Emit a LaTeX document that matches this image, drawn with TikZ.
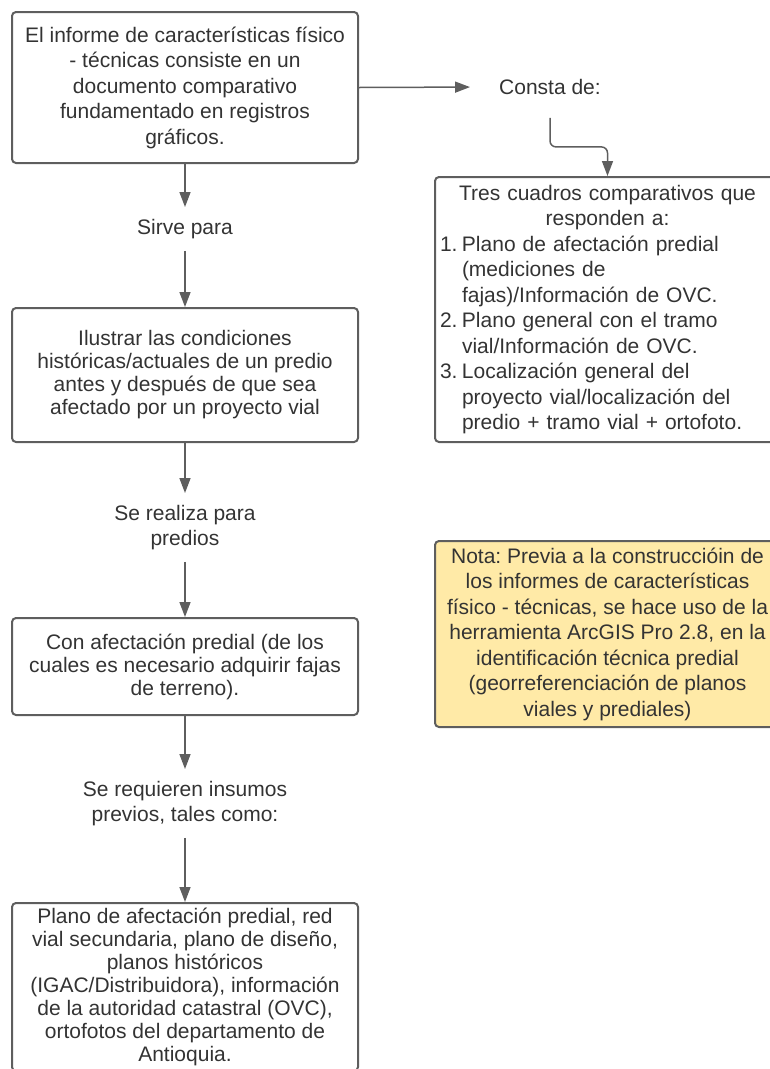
\documentclass[tikz,border=0pt]{standalone}
\usepackage{fontspec}
\setmainfont{Liberation Sans}
\usepackage{tikz}
\usetikzlibrary{positioning,arrows.meta}
\definecolor{color1}{RGB}{94,94,94}
\definecolor{color2}{RGB}{51,51,51}
\definecolor{color3}{RGB}{255,234,167}
\newcommand{\itemlinea}[2]{\noindent\makebox[22pt][l]{#1}#2\par}
\frenchspacing

\begin{document}
\begin{tikzpicture}[x=1pt,y=-1pt]
\tikzset{caja/.style 2 args={draw=color1,line width=2pt,rounded corners=4pt,text=color2,font=\fontsize{21}{25.5}\selectfont,align=center,minimum width=#1,minimum height=#2,inner sep=0pt},
texto/.style={text=color2,font=\fontsize{21}{25}\selectfont,align=center,inner sep=12pt},
flecha/.style={draw=color1,line width=1.5pt,-{Triangle[length=15pt,width=11pt]}}}
\useasboundingbox (0,0) rectangle (770,1069);
% Nodos
\node [caja={346}{151}] (informe) at (185,87.5) {El informe de características físico\\- técnicas consiste en un\\documento comparativo\\fundamentado en registros\\gráficos.};
\node [texto] (consta) at (550,87) {Consta de:};
\node [texto] (sirve) at (185,229) {Sirve para};
\node [caja={346}{134},font=\fontsize{21}{23}\selectfont] (ilustrar) at (185,375) {Ilustrar las condiciones\\históricas/actuales de un predio\\antes y después de que sea\\afectado por un proyecto vial};
\node [texto] (realiza) at (185,527.5) {Se realiza para\\predios};
\node [caja={346}{97},font=\fontsize{21}{23}\selectfont] (afectacion) at (185,666.5) {Con afectación predial (de los\\cuales es necesario adquirir fajas\\de terreno).};
\node [texto] (requieren) at (185,803.5) {Se requieren insumos\\previos, tales como:};
\node [caja={346}{168},font=\fontsize{21}{23}\selectfont] (insumos) at (185,987) {Plano de afectación predial, red\\vial secundaria, plano de diseño,\\planos históricos\\(IGAC/Distribuidora), información\\de la autoridad catastral (OVC),\\ortofotos del departamento de\\Antioquia.};
\node [caja={345}{265},align=left,text width=335pt,inner sep=5pt] (cuadros) at (607.5,309.5) {%
\centerline{Tres cuadros comparativos que}
\centerline{responden a:}
\itemlinea{1.}{Plano de afectación predial}
\itemlinea{}{(mediciones de}
\itemlinea{}{fajas)/Información de OVC.}
\itemlinea{2.}{Plano general con el tramo}
\itemlinea{}{vial/Información de OVC.}
\itemlinea{3.}{Localización general del}
\itemlinea{}{proyecto vial/localización del}
\itemlinea{}{predio + tramo vial + ortofoto.}};
\node [caja={345}{186},fill=color3] (nota) at (607.5,634) {Nota: Previa a la construccióin de\\los informes de características\\físico - técnicas, se hace uso de la\\herramienta ArcGIS Pro 2.8, en la\\identificación técnica predial\\(georreferenciación de planos\\viales y prediales)};
% Flechas
\draw [flecha] (informe.south) -- (sirve.north);
\draw [flecha] (sirve.south) -- (ilustrar.north);
\draw [flecha] (ilustrar.south) -- (realiza.north);
\draw [flecha] (realiza.south) -- (afectacion.north);
\draw [flecha] (afectacion.south) -- (requieren.north);
\draw [flecha] (requieren.south) -- (insumos.north);
\draw [flecha,shorten >=17pt] (informe.east) -- (consta.west);
\draw [flecha,rounded corners=6pt,shorten <=11pt] (consta.south) -- ++(0,40) -| (cuadros.north);
\end{tikzpicture}
\end{document}
